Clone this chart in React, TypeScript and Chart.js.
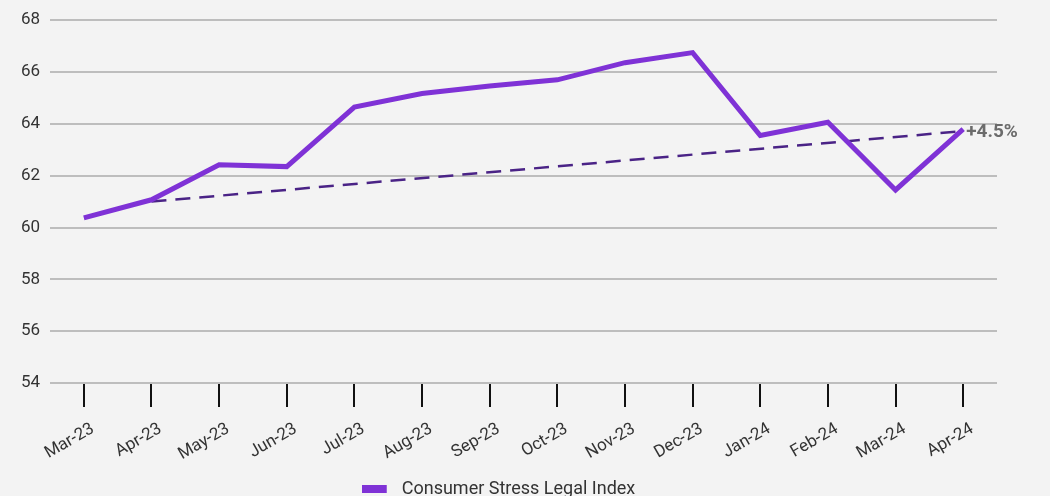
import React, { useEffect, useRef } from "react";
import { Chart, registerables } from "chart.js";

Chart.register(...registerables);

const months = ["Mar-23","Apr-23","May-23","Jun-23","Jul-23","Aug-23","Sep-23","Oct-23","Nov-23","Dec-23","Jan-24","Feb-24","Mar-24","Apr-24"];
const indexValues = [60.37, 61.07, 62.42, 62.35, 64.65, 65.17, 65.46, 65.7, 66.36, 66.75, 63.55, 64.06, 61.45, 63.8];
const trendValues = [null, 61.0, null, null, null, null, null, null, null, null, null, null, null, 63.72];
const trendLabel = "+4.5%";
const seriesName = "Consumer Stress Legal Index";
const lineColor = "#7f32d6";

const labelPlugin = {
  id: "trendLabel",
  afterDatasetsDraw(chart: any) {
    const meta = chart.getDatasetMeta(1);
    const pt = meta.data[meta.data.length - 1];
    if (!pt) return;
    const ctx = chart.ctx;
    ctx.save();
    ctx.font = "bold 19px Roboto";
    ctx.fillStyle = "#6b6b6b";
    ctx.textAlign = "left";
    ctx.textBaseline = "middle";
    ctx.fillText(trendLabel, pt.x + 3, pt.y + 1);
    ctx.restore();
  },
};

function makeLegendSwatch() {
  const c = document.createElement("canvas");
  c.width = 31;
  c.height = 8;
  const g = c.getContext("2d")!;
  g.fillStyle = lineColor;
  g.fillRect(0, 0, 25, 8);
  return c;
}

export default function App() {
  const ref = useRef<HTMLCanvasElement>(null);
  useEffect(() => {
    document.body.style.margin = "0";
    const swatch = makeLegendSwatch();
    const chart = new Chart(ref.current!, {
      type: "line",
      data: {
        labels: months,
        datasets: [
          {
            label: seriesName,
            data: indexValues,
            borderColor: lineColor,
            backgroundColor: lineColor,
            borderWidth: 5,
            pointRadius: 0,
            tension: 0,
          },
          {
            label: "trend",
            data: trendValues as any,
            borderColor: "#4a2386",
            borderWidth: 2.5,
            borderDash: [15, 9],
            pointRadius: 0,
            spanGaps: true,
          },
        ],
      },
      options: {
        animation: false,
        responsive: false,
        maintainAspectRatio: false,
        layout: { padding: { top: 8, right: 53, left: 0, bottom: -12 } },
        plugins: {
          tooltip: { enabled: false },
          legend: {
            position: "bottom",
            labels: {
              filter: (item: any) => item.datasetIndex === 0,
              usePointStyle: true,
              pointStyle: swatch as any,
              pointStyleWidth: 31,
              boxHeight: 8,
              color: "#333",
              font: { family: "Roboto", size: 18 },
              padding: 10,
            },
          },
        },
        scales: {
          x: {
            offset: true,
            border: { display: false },
            grid: {
              drawOnChartArea: false,
              drawTicks: true,
              tickLength: 24,
              color: "#111",
              lineWidth: 2,
              offset: false,
            },
            ticks: {
              minRotation: 30,
              maxRotation: 30,
              color: "#333",
              font: { family: "Roboto", size: 17 },
              padding: 12,
              labelOffset: 9,
            },
            afterFit: (s: any) => { s.height = 87; },
          },
          y: {
            min: 54,
            max: 68,
            border: { display: false },
            grid: { color: "#bdbdbd", lineWidth: 2, drawTicks: false },
            ticks: {
              stepSize: 2,
              color: "#333",
              font: { family: "Roboto", size: 17 },
              padding: 10,
            },
            afterFit: (s: any) => { s.width = 50; },
          },
        },
      },
      plugins: [labelPlugin],
    });
    return () => chart.destroy();
  }, []);
  return (
    <div style={{ width: 1050, height: 496, background: "#f3f3f3" }}>
      <canvas ref={ref} width={1050} height={496} style={{ display: "block" }} />
    </div>
  );
}
